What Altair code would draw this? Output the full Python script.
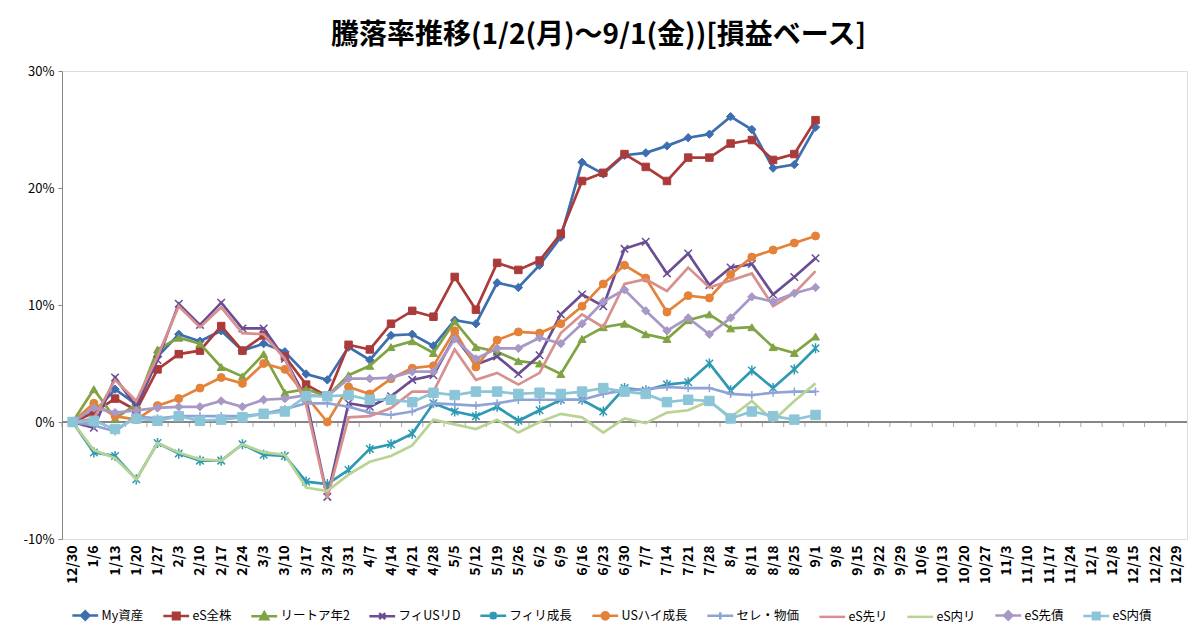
import altair as alt
import pandas as pd

dates = ["12/30", "1/6", "1/13", "1/20", "1/27", "2/3", "2/10", "2/17", "2/24", "3/3",
         "3/10", "3/17", "3/24", "3/31", "4/7", "4/14", "4/21", "4/28", "5/5", "5/12",
         "5/19", "5/26", "6/2", "6/9", "6/16", "6/23", "6/30", "7/7", "7/14", "7/21",
         "7/28", "8/4", "8/11", "8/18", "8/25", "9/1", "9/8", "9/15", "9/22", "9/29",
         "10/6", "10/13", "10/20", "10/27", "11/3", "11/10", "11/17", "11/24", "12/1",
         "12/8", "12/15", "12/22", "12/29"]

series_names = ["My資産", "eS全株", "リートア年2", "フィUSリD", "フィリ成長", "USハイ成長",
                "セレ・物価", "eS先リ", "eS内リ", "eS先債", "eS内債"]

my_assets = [0, 0.8, 2.8, 1.5, 5.6, 7.5, 6.9, 7.8, 6.1, 6.7, 6.0, 4.1, 3.6, 6.4, 5.3, 7.4, 7.5, 6.5,
             8.7, 8.4, 11.9, 11.5, 13.4, 15.8, 22.2, 21.2, 22.8, 23.0, 23.6, 24.3, 24.6, 26.1,
             25.0, 21.7, 22.0, 25.2]
es_all = [0, 0.8, 2.0, 1.0, 4.5, 5.8, 6.1, 8.2, 6.1, 7.4, 5.6, 3.2, 2.2, 6.6, 6.2, 8.4, 9.5, 9.0,
          12.4, 9.6, 13.6, 13.0, 13.8, 16.1, 20.6, 21.3, 22.9, 21.8, 20.6, 22.6, 22.6, 23.8,
          24.1, 22.4, 22.9, 25.8]
reit_a2 = [0, 2.8, 0.3, 1.5, 6.2, 7.2, 6.7, 4.7, 3.9, 5.8, 2.5, 2.8, 2.2, 4.0, 4.8, 6.4, 6.9, 5.9,
           8.6, 6.4, 6.0, 5.2, 5.0, 4.1, 7.1, 8.1, 8.4, 7.5, 7.1, 8.7, 9.2, 8.0, 8.1, 6.4, 5.9, 7.3]
fi_us_reit = [0, -0.5, 3.8, 1.3, 5.3, 10.1, 8.3, 10.2, 8.0, 8.0, 5.4, 2.0, -6.4, 1.6, 1.3, 2.2,
              3.6, 4.0, 7.3, 4.9, 5.6, 4.1, 5.7, 9.2, 10.9, 9.9, 14.8, 15.4, 12.7, 14.4, 11.7,
              13.2, 13.5, 10.9, 12.4, 14.0]
fi_growth = [0, -2.6, -2.9, -4.9, -1.8, -2.7, -3.3, -3.3, -1.9, -2.8, -2.9, -5.1, -5.3, -4.1,
             -2.3, -1.9, -1.0, 1.6, 0.9, 0.5, 1.3, 0.1, 1.0, 1.9, 1.9, 0.9, 2.9, 2.7, 3.2, 3.4,
             5.0, 2.7, 4.4, 2.9, 4.5, 6.3]
us_high = [0, 1.6, 0.5, 0.2, 1.4, 2.0, 2.9, 3.8, 3.3, 5.0, 4.5, 2.2, 0.0, 3.0, 2.4, 3.7, 4.6, 4.8,
           7.8, 4.7, 7.0, 7.7, 7.6, 8.4, 9.9, 11.8, 13.4, 12.3, 9.4, 10.8, 10.6, 12.6, 14.1,
           14.7, 15.3, 15.9]
sele_price = [0, -0.3, -0.8, 0.5, 0.3, 0.5, 0.5, 0.5, 0.5, 0.7, 1.1, 1.6, 1.6, 1.3, 0.8, 0.6, 0.9,
              1.6, 1.5, 1.4, 1.6, 1.9, 1.9, 1.9, 1.9, 2.4, 2.7, 2.8, 3.0, 2.9, 2.9, 2.4, 2.3, 2.5,
              2.6, 2.6]
es_dev_reit = [0, 0.3, 3.6, 1.8, 5.6, 9.9, 8.1, 9.8, 7.6, 7.5, 5.4, 1.5, -6.5, 0.4, 0.5, 1.2, 2.6,
               2.6, 6.2, 3.6, 4.2, 3.2, 4.2, 7.6, 9.2, 8.1, 11.8, 12.2, 11.2, 13.2, 11.5, 12.1,
               12.7, 9.9, 11.0, 12.9]
es_dom_reit = [0, -2.4, -3.1, -4.9, -1.8, -2.6, -3.2, -3.3, -1.9, -2.6, -2.8, -5.6, -5.9, -4.5,
               -3.4, -2.9, -2.0, 0.2, -0.2, -0.6, 0.2, -0.9, 0.0, 0.7, 0.4, -0.9, 0.3, -0.1, 0.8,
               1.0, 1.8, 0.4, 1.8, 0.1, 1.8, 3.3]
es_dev_bond = [0, 1.2, 0.8, 1.0, 1.2, 1.3, 1.3, 1.8, 1.3, 1.9, 2.0, 2.3, 2.2, 3.7, 3.7, 3.8, 4.3,
               4.3, 7.1, 5.4, 6.3, 6.3, 7.2, 6.7, 8.4, 10.3, 11.3, 9.5, 7.8, 8.9, 7.5, 8.9, 10.7,
               10.3, 11.0, 11.5]
es_dom_bond = [0, 0.1, -0.6, 0.3, 0.1, 0.5, 0.1, 0.2, 0.4, 0.7, 0.9, 2.2, 2.2, 2.3, 1.9, 1.9, 1.7,
               2.5, 2.3, 2.6, 2.6, 2.4, 2.5, 2.4, 2.6, 2.9, 2.6, 2.4, 1.7, 1.9, 1.8, 0.3, 0.9, 0.5,
               0.2, 0.6]

all_values = [my_assets, es_all, reit_a2, fi_us_reit, fi_growth, us_high, sele_price,
              es_dev_reit, es_dom_reit, es_dev_bond, es_dom_bond]

colors = ["#3d6eb0", "#ab3b3a", "#80a343", "#6a4d93", "#2d99b3", "#e5823a",
          "#8fa3d6", "#d7908e", "#b8d394", "#a898c6", "#8cc5d7"]

X_PATH = "M-1,-1L1,1M-1,1L1,-1"
STAR_PATH = "M-1,-1L1,1M-1,1L1,-1M0,-1.35V1.35"
PLUS_PATH = "M-1,0H1M0,-1.1V1.1"
# (shape, filled, size) per series; None = no marker
markers = [("diamond", True, 70), ("square", True, 56), ("triangle-up", True, 64),
           (X_PATH, False, 56), (STAR_PATH, False, 56), ("circle", True, 64),
           (PLUS_PATH, False, 56), None, None, ("diamond", True, 70), ("square", True, 90)]

LINE = "M-4.3,0H4.3"
legend_shapes = [
    LINE + "M0,-1.4L1.4,0L0,1.4L-1.4,0Z",
    LINE + "M-1.1,-1.1H1.1V1.1H-1.1Z",
    LINE + "M0,-1.3L1.3,1L-1.3,1Z",
    LINE + "M-1,-1L1,1M-1,1L1,-1",
    LINE + "M-1,-1L1,1M-1,1L1,-1M0,-1.3V1.3",
    LINE + "M1.2,0A1.2,1.2,0,1,1,-1.2,0A1.2,1.2,0,1,1,1.2,0Z",
    LINE + "M0,-1.2V1.2",
    LINE,
    LINE,
    LINE + "M0,-1.4L1.4,0L0,1.4L-1.4,0Z",
    LINE + "M-1.1,-1.1H1.1V1.1H-1.1Z",
]

rows = []
for name, vals in zip(series_names, all_values):
    for d, v in zip(dates, vals):
        rows.append({"date": d, "series": name, "value": v})
df = pd.DataFrame(rows)
cat_df = pd.DataFrame({"date": dates})

FONT = "Noto Sans CJK JP"
PLOT_W, PLOT_H = 1125, 468
step = PLOT_W / len(dates)

x_enc = alt.X("date:N",
              scale=alt.Scale(domain=dates, type="point", padding=0.5),
              axis=alt.Axis(labelAngle=-90, labelFontSize=14, labelFont=FONT, labelFontWeight="bold",
                            labelColor="#000000", labelPadding=6, ticks=False, domain=False,
                            grid=False, title=None, labelOverlap=False))
y_enc = alt.Y("value:Q",
              scale=alt.Scale(domain=[-10, 30], nice=False, zero=False),
              axis=alt.Axis(values=[-10, 0, 10, 20, 30], labelExpr="datum.value + '%'",
                            labelFontSize=13, labelFont=FONT, labelColor="#000000", labelPadding=4,
                            tickSize=4, tickColor="#868686", domainColor="#868686",
                            gridColor="#a6a6a6", gridWidth=1, title=None))

base = alt.Chart(df)

layers = []
# zero axis line with category ticks
layers.append(alt.Chart(cat_df).mark_rule(color="#868686", strokeWidth=1).encode(y=alt.datum(0)))
layers.append(alt.Chart(cat_df).mark_tick(orient="vertical", size=5, thickness=1, color="#868686",
                                          xOffset=-step / 2, yOffset=2.5)
              .encode(x=x_enc, y=alt.datum(0)))

for name, col, mk in zip(series_names, colors, markers):
    sub = base.transform_filter(alt.datum.series == name)
    layers.append(sub.mark_line(color=col, strokeWidth=2.7).encode(x=x_enc, y=y_enc))
    if mk is not None:
        shp, filled, sz = mk
        if filled:
            m = sub.mark_point(shape=shp, filled=True, color=col, stroke=col, strokeWidth=1,
                               size=sz, opacity=1)
        else:
            m = sub.mark_point(shape=shp, filled=False, color=col, strokeWidth=1.5,
                               size=sz, opacity=1)
        layers.append(m.encode(x=x_enc, y=y_enc))

legend_props = dict(title=None, orient="none", legendX=7, legendY=538, direction="horizontal",
                    columns=11, symbolSize=36, symbolStrokeWidth=2.5, symbolOffset=10,
                    labelOffset=10, labelFontSize=12.5, labelFont=FONT, labelColor="#000000",
                    columnPadding=14, symbolOpacity=1)

legend_layer = base.mark_point(filled=True, opacity=0).encode(
    x=x_enc, y=y_enc,
    fill=alt.Fill("series:N", scale=alt.Scale(domain=series_names, range=colors),
                  legend=alt.Legend(**legend_props)),
    stroke=alt.Stroke("series:N", scale=alt.Scale(domain=series_names, range=colors),
                      legend=alt.Legend(**legend_props)),
    shape=alt.Shape("series:N", scale=alt.Scale(domain=series_names, range=legend_shapes),
                    legend=alt.Legend(**legend_props)),
)
layers.append(legend_layer)

chart = alt.layer(*layers).properties(
    width=PLOT_W, height=PLOT_H,
    autosize=alt.AutoSizeParams(type="none"),
    padding={"left": 54, "top": 63, "right": 5, "bottom": 90},
    title=alt.TitleParams("騰落率推移(1/2(月)～9/1(金))[損益ベース]", fontSize=28, font=FONT,
                          fontWeight="bold", color="#000000", anchor="middle", dx=-26, offset=15),
).configure_view(stroke=None).configure(background="white")

chart.save("out.html", embed_options={"renderer": "svg", "actions": False})
